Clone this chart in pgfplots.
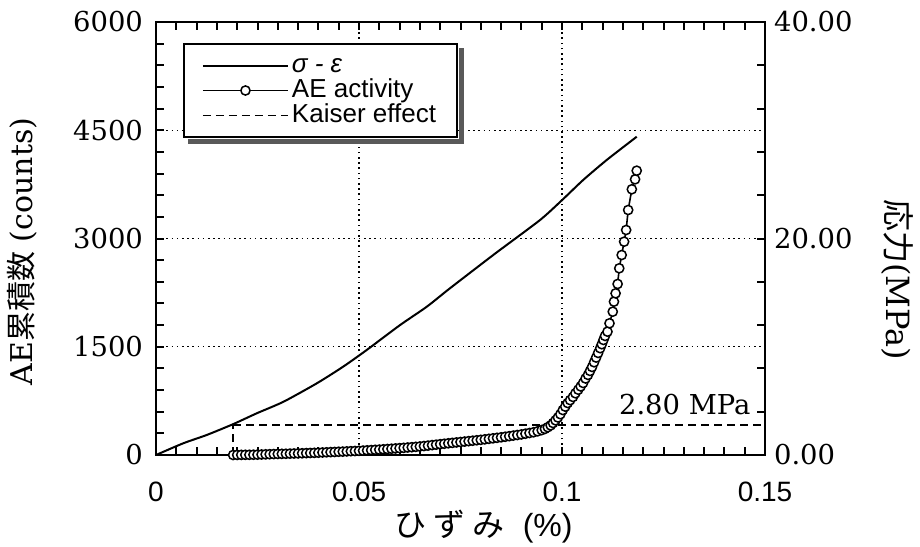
\documentclass[border=0pt]{standalone}
\usepackage{fontspec}
\usepackage{pgfplots}
\usepackage{pgfplotstable}
\pgfplotsset{compat=1.18}
\setmainfont{DejaVu Serif}
\newfontfamily\cjk{Noto Sans CJK JP}
\newfontfamily\lsans{Liberation Sans}

% stress-strain curve (strain in %, stress in MPa)
\pgfplotstableread{
strain stress
0.0000 0.00
0.0067 1.08
0.0125 1.85
0.0190 2.85
0.0248 3.85
0.0314 4.92
0.0396 6.62
0.0461 8.16
0.0519 9.70
0.0601 12.00
0.0667 13.70
0.0724 15.40
0.0835 18.60
0.0946 21.71
0.1003 23.65
0.1052 25.40
0.1110 27.25
0.1184 29.40
}\stressdata

% cumulative AE counts
\pgfplotstableread{
strain counts
0.0190 0
0.0200 1
0.0210 2
0.0220 3
0.0230 3
0.0240 4
0.0250 5
0.0260 7
0.0270 9
0.0280 11
0.0290 13
0.0300 15
0.0310 16
0.0320 17
0.0330 19
0.0340 21
0.0350 22
0.0360 24
0.0370 26
0.0380 28
0.0390 30
0.0400 32
0.0410 35
0.0420 37
0.0430 40
0.0440 42
0.0450 45
0.0460 47
0.0470 50
0.0480 53
0.0490 55
0.0500 58
0.0510 61
0.0520 65
0.0530 68
0.0540 72
0.0550 75
0.0560 79
0.0570 83
0.0580 87
0.0590 91
0.0600 95
0.0610 99
0.0620 104
0.0630 108
0.0640 113
0.0650 118
0.0660 124
0.0670 130
0.0680 137
0.0690 143
0.0700 150
0.0710 156
0.0720 162
0.0730 168
0.0740 174
0.0750 180
0.0760 186
0.0770 192
0.0780 198
0.0790 204
0.0800 210
0.0810 217
0.0820 224
0.0830 231
0.0840 238
0.0850 245
0.0860 253
0.0870 261
0.0880 269
0.0890 277
0.0900 285
0.0910 295
0.0920 305
0.0930 315
0.0940 328
0.0950 345
0.0958 362
0.0965 385
0.0972 410
0.0978 443
0.0984 480
0.0990 520
0.0996 565
0.1002 623
0.1008 670
0.1014 720
0.1020 760
0.1027 804
0.1033 855
0.1040 905
0.1046 950
0.1052 998
0.1058 1060
0.1064 1110
0.1069 1165
0.1074 1220
0.1079 1285
0.1084 1350
0.1089 1414
0.1094 1480
0.1098 1535
0.1102 1594
0.1106 1650
0.1112 1709
0.1117 1825
0.1125 1986
0.1128 2125
0.1132 2240
0.1137 2370
0.1141 2587
0.1147 2771
0.1153 2956
0.1158 3118
0.1163 3395
0.1172 3682
0.1180 3820
0.1184 3940
}\aedata

\begin{document}
\begin{tikzpicture}
\path[use as bounding box] (-78pt,-45.5pt) rectangle (382pt,227.5pt);
\pgfplotsset{
  common/.style={
    scale only axis, width=304.5pt, height=216.5pt,
    xmin=0, xmax=0.15,
    axis line style={line width=1.4pt},
    tick style={line width=1pt, black},
    major tick length=4pt, minor tick length=4pt,
    tick align=inside,
    /pgf/number format/assume math mode=true,
    ticklabel style={font=\fontsize{13.7}{16}\selectfont},
    scaled ticks=false,
  },
  kaiser/.style={black, line width=0.9pt, dash pattern=on 4pt off 2.5pt},
}
% right axis: stress
\begin{axis}[common,
  ymin=0, ymax=40,
  axis x line=none, axis y line*=right,
  ytick={0,20,40},
  minor ytick={4,8,12,16,24,28,32,36},
  yticklabel style={xshift=1pt,
    /pgf/number format/fixed, /pgf/number format/fixed zerofill,
    /pgf/number format/precision=2},
  ylabel={{\cjk 応力}(MPa)},
  ylabel style={at={(axis description cs:1.2167,0.405)}, anchor=center,
    rotate=180, font=\fontsize{16}{19}\selectfont},
]
\addplot[black, line width=1pt, smooth, tension=0.4] table[x=strain, y=stress] {\stressdata};
\addplot[kaiser] coordinates {(0.019,2.80) (0.15,2.80)};
\addplot[kaiser] coordinates {(0.019,0) (0.019,2.80)};
\node[anchor=base east, inner sep=0pt, font=\fontsize{13.7}{16}\selectfont]
  at (axis cs:0.1465,3.75) {2.80 MPa};
\end{axis}
% left axis: cumulative AE counts
\begin{axis}[common,
  ymin=0, ymax=6000,
  ytick={0,1500,3000,4500,6000}, minor y tick num=4,
  xtick={0,0.05,0.1,0.15}, minor x tick num=9,
  ytick pos=left, xtick pos=both, xticklabel pos=bottom,
  yticklabel style={/pgf/number format/1000 sep={}, xshift=-3pt},
  xticklabel style={/pgf/number format/fixed, yshift=-10pt,
    font=\lsans\fontsize{14}{16}\selectfont},
  grid=major,
  grid style={black, line width=0.7pt, dash pattern=on 0.8pt off 1.8pt},
  xlabel={{\cjk ひ\hspace{3.5pt}ず\hspace{3.5pt}み}\hspace{9pt}{\lsans (\%)}},
  xlabel style={at={(axis description cs:0.538,0)}, anchor=center, yshift=-36pt,
    font=\fontsize{16}{19}\selectfont},
  ylabel={AE{\cjk 累積数} (counts)},
  ylabel style={at={(axis description cs:-0.22,0.47)}, anchor=center,
    font=\fontsize{15}{18}\selectfont},
  legend image code/.code={\draw[mark repeat=2, mark phase=2, #1]
    plot coordinates {(0pt,0pt) (21.25pt,0pt) (42.5pt,0pt)};},
  legend cell align=left,
  legend style={name=lgd, at={(axis description cs:0.0443,0.9515)}, anchor=north west,
    draw=black, line width=1pt, fill=white,
    font=\lsans\fontsize{13}{15}\selectfont,
    inner xsep=9pt, inner ysep=4.5pt, row sep=0pt,
    nodes={inner xsep=1.5pt, inner ysep=0pt, text height=9.5pt, text depth=3pt}},
]
\addlegendimage{black, line width=1pt}
\addlegendentry{\textit{σ - ε}}
\addplot[black, line width=0.8pt, mark=*, mark size=2.3pt,
  mark options={fill=white, draw=black, line width=0.75pt}]
  table[x=strain, y=counts] {\aedata};
\addlegendentry{AE activity}
\addlegendimage{kaiser}
\addlegendentry{Kaiser effect}
\end{axis}
% shadow strips along the right and bottom edges of the legend box
\fill[black!65] ([shift={(0.5pt,-2.5pt)}]lgd.north east) rectangle ([shift={(3pt,-3pt)}]lgd.south east);
\fill[black!65] ([shift={(2.5pt,-0.5pt)}]lgd.south west) rectangle ([shift={(3pt,-3pt)}]lgd.south east);
\end{tikzpicture}
\end{document}
